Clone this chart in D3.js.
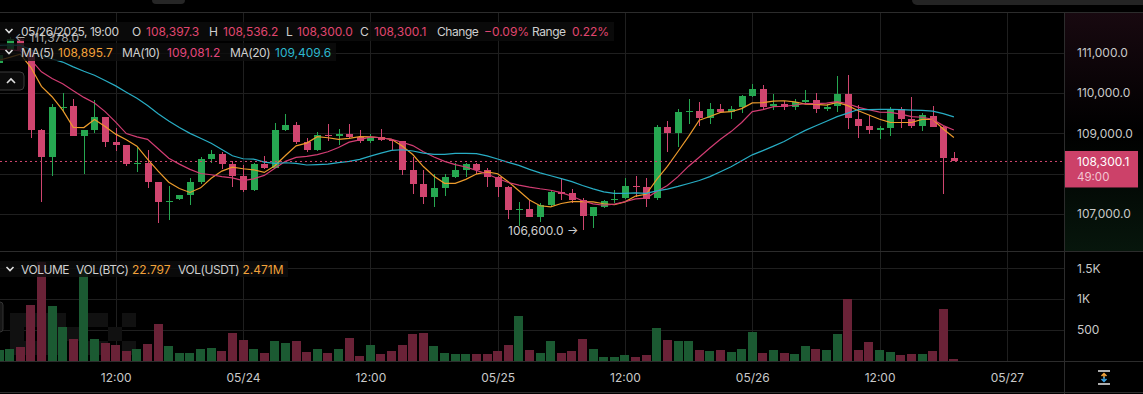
<!DOCTYPE html>
<html>
<head>
<meta charset="utf-8">
<script src="https://cdn.jsdelivr.net/npm/d3@7"></script>
<style>
  html, body { margin: 0; padding: 0; background: #000; overflow: hidden; }
  svg { display: block; font-family: Inter, "Noto Sans", sans-serif; }
</style>
</head>
<body>
<svg id="chart"></svg>
<script>
// hourly candles, first one is 05/23 01:00 (UTC used only for labelling)
const startHour = Date.UTC(2025, 4, 23, 1);

const opens = [110740, 111060, 111330, 111060, 109070, 108410, 109640, 109670, 108930, 109070,
  109400, 108780, 108700, 108250, 108270, 107780, 107310, 107360, 107470, 107780,
  108360, 108480, 108230, 107940, 107590, 108230, 108150, 109070, 109200, 108780,
  108580, 108950, 108930, 108990, 108910, 108800, 108910, 108830, 108800, 108080,
  107740, 107420, 107640, 107910, 108080, 108230, 108080, 107920, 107670, 107090,
  107110, 106930, 107210, 107540, 107510, 107340, 106940, 107160, 107340, 107390,
  107690, 107660, 107400, 109160, 109010, 109530, 109550, 109380, 109610, 109530,
  109640, 109920, 110090, 109670, 109720, 109650, 109780, 109820, 109610, 109670,
  109980, 109360, 109180, 109070, 109130, 109600, 109350, 109180, 109420, 109160,
  108397.3];
const highs = [110980, 111378, 111360, 111100, 109100, 109720, 110000, 109860, 109080, 109820,
  109410, 109140, 108710, 108660, 108580, 107790, 107690, 107470, 107880, 108410,
  108580, 108540, 108310, 108210, 108260, 108430, 109250, 109470, 109270, 108890,
  109030, 109220, 109100, 109220, 109070, 108990, 109100, 108840, 108810, 108400,
  108100, 108000, 107980, 108260, 108260, 108260, 108130, 107930, 107680, 107300,
  107340, 107260, 107590, 107860, 107620, 107400, 107170, 107350, 107590, 107900,
  107930, 107880, 109200, 109300, 109600, 109840, 109780, 109740, 109720, 109670,
  109950, 110220, 110190, 109980, 109800, 109850, 110070, 110000, 109730, 110410,
  110440, 109690, 109450, 109170, 109640, 109650, 109900, 109490, 109670, 109170,
  108536.2];
const lows = [110700, 111040, 111020, 108870, 107300, 107940, 109560, 108920, 107980, 109010,
  108660, 108560, 108180, 108040, 107650, 106780, 106840, 107340, 107220, 107740,
  108270, 108120, 107670, 107550, 107580, 108120, 108140, 109060, 108740, 108540,
  108570, 108810, 108700, 108870, 108760, 108750, 108820, 108580, 107960, 107490,
  107240, 107170, 107440, 107900, 107920, 107980, 107670, 107420, 106870, 106690,
  106920, 106800, 107200, 107340, 107260, 106600, 106640, 107150, 107260, 107380,
  107420, 107170, 107350, 108540, 108660, 109220, 109180, 109240, 109520, 109350,
  109500, 109900, 109590, 109570, 109570, 109570, 109740, 109490, 109550, 109530,
  109100, 108890, 108980, 108850, 108930, 109130, 109120, 109050, 109150, 107500,
  108300.0];
const closes = [110930, 111330, 111060, 109090, 108410, 109640, 109660, 108930, 109070, 109400,
  108780, 108710, 108230, 108270, 107790, 107300, 107330, 107460, 107780, 108360,
  108480, 108230, 107940, 107590, 108230, 108150, 109070, 109200, 108780, 108580,
  108950, 108930, 108990, 108910, 108800, 108910, 108830, 108800, 108080, 107740,
  107420, 107640, 107910, 108080, 108230, 108080, 107920, 107670, 107090, 107110,
  106930, 107210, 107540, 107500, 107340, 106940, 107160, 107320, 107380, 107690,
  107660, 107380, 109160, 109010, 109530, 109540, 109380, 109610, 109530, 109610,
  109920, 110090, 109650, 109720, 109650, 109780, 109820, 109600, 109650, 109980,
  109380, 109180, 109070, 109130, 109600, 109350, 109180, 109450, 109160, 108390,
  108300.1];
// volume in BTC
const volumes = [163, 185, 217, 907, 1596, 885, 543, 353, 1482, 348,
  288, 250, 152, 190, 272, 592, 234, 130, 114, 179,
  201, 152, 445, 331, 190, 119, 321, 282, 321, 136,
  179, 125, 179, 364, 76, 245, 103, 152, 250, 429,
  445, 234, 119, 103, 103, 98, 98, 152, 256, 717,
  168, 114, 310, 119, 152, 348, 179, 54, 54, 87,
  65, 87, 527, 326, 315, 321, 174, 152, 168, 141,
  185, 462, 119, 168, 130, 103, 239, 190, 163, 429,
  999, 174, 299, 174, 136, 87, 103, 103, 152, 836,
  22.797];
// closes of the 19 hours before the first visible candle, only used by the moving averages
const priorCloses = [111150, 111300, 111220, 111350, 111280, 111190, 111320, 111260, 111380, 111320,
  111420, 111360, 111290, 111410, 111300, 110980, 110650, 110720, 110770];

const maPeriods = [5, 10, 20];
const maColors = ['#ec9b2c', '#d23d73', '#28adc4'];
const maLegendColors = ['#f2a23a', '#e2477c', '#2cb8cf'];
const maLegendValues = ['108,895.7', '109,081.2', '109,409.6'];

const priceTicks = [107000, 108000, 109000, 110000, 111000];
const volumeTicks = [500, 1000, 1500];
const volumeTickLabels = ['500', '1K', '1.5K'];
const volUsdtText = '2.471M';
const countdownText = '49:00';

const W = 1143, H = 394;
const plotRight = 1064;
const mainTop = 12, mainBottom = 251, volBottom = 361;

const upColor = '#26a751', downColor = '#d0456f';
const upVol = '#1b5a32', downVol = '#6a2237';
const textColor = '#cfcfcf';

const fmtPrice = d3.format(',.1f');

const svg = d3.select('#chart').attr('width', W).attr('height', H);
const defs = svg.append('defs');

const times = closes.map((d, i) => new Date(startHour + i * 3600e3));
const candles = closes.map((c, i) => ({
  t: times[i], o: opens[i], h: highs[i], l: lows[i], c: c, v: volumes[i]
}));

// scales
const x = d3.scaleUtc()
  .domain([new Date(Date.UTC(2025, 4, 23, 0)), new Date(Date.UTC(2025, 4, 27, 0))])
  .range([-11.6, 1006.9]);
const y = d3.scaleLinear().domain([107000, 111000]).range([213.9, 52.6]);
const yVol = d3.scaleLinear().domain([0, 1500]).range([360.5, 268.3]);

// background of the right column
const grad = defs.append('linearGradient').attr('id', 'axisBg')
  .attr('x1', 0).attr('y1', 0).attr('x2', 0).attr('y2', 1);
grad.append('stop').attr('offset', '0%').attr('stop-color', '#180910');
grad.append('stop').attr('offset', '50%').attr('stop-color', '#000');
grad.append('stop').attr('offset', '100%').attr('stop-color', '#07160c');
svg.append('rect').attr('x', plotRight).attr('y', mainTop).attr('width', W - plotRight)
  .attr('height', mainBottom - mainTop).attr('fill', 'url(#axisBg)');

defs.append('clipPath').attr('id', 'clipMain').append('rect')
  .attr('x', 0).attr('y', mainTop).attr('width', plotRight).attr('height', mainBottom - mainTop);
defs.append('clipPath').attr('id', 'clipVol').append('rect')
  .attr('x', 0).attr('y', mainBottom).attr('width', plotRight).attr('height', volBottom - mainBottom);

// top ui bits
svg.append('rect').attr('x', 152).attr('y', -6).attr('width', 33).attr('height', 10).attr('rx', 4).attr('fill', '#262626');
svg.append('rect').attr('x', 912).attr('y', -6).attr('width', 240).attr('height', 11).attr('rx', 5).attr('fill', '#242424');

// grid
const timeTicks = d3.utcHour.every(12).range(new Date(Date.UTC(2025, 4, 23, 12)), new Date(Date.UTC(2025, 4, 27, 1)));
const grid = svg.append('g').attr('stroke', '#1f1f1f').attr('shape-rendering', 'crispEdges');
grid.selectAll('.vg').data(timeTicks).join('line')
  .attr('x1', d => Math.round(x(d)) + 0.5).attr('x2', d => Math.round(x(d)) + 0.5)
  .attr('y1', mainTop).attr('y2', volBottom);
grid.selectAll('.hg').data(priceTicks).join('line')
  .attr('x1', 0).attr('x2', plotRight).attr('y1', d => Math.round(y(d)) + 0.5).attr('y2', d => Math.round(y(d)) + 0.5);
grid.selectAll('.vhg').data(volumeTicks).join('line')
  .attr('x1', 0).attr('x2', plotRight).attr('y1', d => Math.round(yVol(d)) + 0.5).attr('y2', d => Math.round(yVol(d)) + 0.5);

// separators
const sep = svg.append('g').attr('stroke', '#2c2c2c').attr('shape-rendering', 'crispEdges');
[mainTop, mainBottom, volBottom, 392].forEach(v => {
  sep.append('line').attr('x1', 0).attr('x2', W).attr('y1', v + 0.5).attr('y2', v + 0.5);
});
sep.append('line').attr('x1', plotRight + 0.5).attr('x2', plotRight + 0.5).attr('y1', mainTop).attr('y2', H);

// faint watermark in the volume pane
const markCells = [[0,0],[1,0],[2,0],[0,1],[2,1],[0,2],[1,2],[2,2],
  [3,0],[3,1],[3,2],[4,1],[5,0],[5,2],
  [6,0],[8,0],[7,1],[6,2],[8,2]];
svg.append('g').selectAll('rect').data(markCells).join('rect')
  .attr('x', d => 10 + d[0] * 14).attr('y', d => 313 + d[1] * 14)
  .attr('width', 14).attr('height', 14).attr('fill', '#111');

// volume bars
svg.append('g').attr('clip-path', 'url(#clipVol)').attr('shape-rendering', 'crispEdges')
  .selectAll('rect').data(candles).join('rect')
  .attr('x', d => Math.round(x(d.t) - 4.5))
  .attr('width', 9)
  .attr('y', d => yVol(d.v))
  .attr('height', d => yVol(0) - yVol(d.v))
  .attr('fill', d => d.c >= d.o ? upVol : downVol);

// candles
const cg = svg.append('g').attr('clip-path', 'url(#clipMain)').attr('shape-rendering', 'crispEdges');
const candle = cg.selectAll('g').data(candles).join('g')
  .attr('fill', d => d.c >= d.o ? upColor : downColor)
  .attr('stroke', d => d.c >= d.o ? upColor : downColor);
candle.append('line')
  .attr('x1', d => Math.round(x(d.t)) + 0.5).attr('x2', d => Math.round(x(d.t)) + 0.5)
  .attr('y1', d => y(d.h)).attr('y2', d => y(d.l));
candle.append('rect')
  .attr('stroke', 'none')
  .attr('x', d => Math.round(x(d.t)) - 3)
  .attr('width', 7)
  .attr('y', d => y(Math.max(d.o, d.c)))
  .attr('height', d => Math.max(1, Math.abs(y(d.o) - y(d.c))));

// moving averages
const allCloses = priorCloses.concat(closes);
const off = priorCloses.length;
maPeriods.forEach((n, j) => {
  const ma = closes.map((c, i) => d3.mean(allCloses.slice(off + i - n + 1, off + i + 1)));
  svg.append('path')
    .attr('clip-path', 'url(#clipMain)')
    .datum(ma)
    .attr('fill', 'none')
    .attr('stroke', maColors[j])
    .attr('stroke-width', 1.2)
    .attr('d', d3.line().x((d, i) => x(times[i])).y(d => y(d)));
});

// last price line
const last = candles[candles.length - 1];
svg.append('line')
  .attr('x1', 0).attr('x2', plotRight).attr('y1', y(last.c)).attr('y2', y(last.c))
  .attr('stroke', downColor).attr('stroke-width', 1).attr('stroke-dasharray', '2,3');

// legend boxes
svg.append('rect').attr('x', 0).attr('y', 22).attr('width', 614).attr('height', 19).attr('fill', '#0d0d0d').attr('opacity', 0.8);
svg.append('rect').attr('x', 0).attr('y', 43).attr('width', 336).attr('height', 18).attr('fill', '#0d0d0d').attr('opacity', 0.8);
svg.append('rect').attr('x', 0).attr('y', 261).attr('width', 288).attr('height', 16).attr('fill', '#0d0d0d').attr('opacity', 0.8);

// high / low markers (the high one sits under the header text, as in the app)
const hiIdx = d3.maxIndex(candles, d => d.h), loIdx = d3.minIndex(candles, d => d.l);
svg.append('text').attr('x', x(times[hiIdx]) + 5).attr('y', y(candles[hiIdx].h) + 0.5)
  .attr('dominant-baseline', 'central').attr('font-size', 12).attr('fill', '#a9a9a9')
  .text('\u2190 ' + fmtPrice(candles[hiIdx].h));
svg.append('text').attr('x', x(times[loIdx]) - 4).attr('y', y(candles[loIdx].l))
  .attr('text-anchor', 'end').attr('dominant-baseline', 'central').attr('font-size', 12).attr('fill', textColor)
  .text(fmtPrice(candles[loIdx].l) + ' \u2192');

function chevron(cx, cy, up) {
  const d = up ? `M${cx - 4},${cy + 2} L${cx},${cy - 2} L${cx + 4},${cy + 2}`
               : `M${cx - 3.5},${cy - 2} L${cx},${cy + 1.5} L${cx + 3.5},${cy - 2}`;
  svg.append('path').attr('d', d).attr('fill', 'none').attr('stroke', '#e0e0e0').attr('stroke-width', 1.6);
}
chevron(9, 31, false);
chevron(9, 52, false);
chevron(10, 269, false);

// labels are set a bit tighter than the numbers, like the app font
function putText(items, cy) {
  svg.append('g').selectAll('text').data(items).join('text')
    .attr('x', d => d.x).attr('y', cy).attr('dominant-baseline', 'central')
    .attr('font-size', 12).attr('fill', d => d.c || textColor)
    .attr('letter-spacing', d => d.c ? 0 : -0.45)
    .text(d => d.t);
}

const change = (last.c - last.o) / last.o;
const range = (last.h - last.l) / last.l;
const valColor = last.c >= last.o ? upColor : '#e0466f';
putText([
  { t: d3.utcFormat('%m/%d/%Y, %H:%M')(last.t), x: 21 },
  { t: 'O', x: 132 }, { t: fmtPrice(last.o), x: 146, c: valColor },
  { t: 'H', x: 209 }, { t: fmtPrice(last.h), x: 223, c: valColor },
  { t: 'L', x: 286 }, { t: fmtPrice(last.l), x: 297, c: valColor },
  { t: 'C', x: 360 }, { t: fmtPrice(last.c), x: 374, c: valColor },
  { t: 'Change', x: 437 }, { t: d3.format('.2%')(change), x: 484, c: valColor },
  { t: 'Range', x: 532 }, { t: d3.format('.2%')(range), x: 572, c: valColor }
], 31);

const maX = [[21, 58], [122, 167], [230, 275]];
putText(maPeriods.flatMap((n, j) => [
  { t: `MA(${n})`, x: maX[j][0] },
  { t: maLegendValues[j], x: maX[j][1], c: maLegendColors[j] }
]), 52);

putText([
  { t: 'VOLUME', x: 21 },
  { t: 'VOL(BTC)', x: 76 }, { t: d3.format('.3f')(last.v), x: 132, c: '#f2a23a' },
  { t: 'VOL(USDT)', x: 178 }, { t: volUsdtText, x: 242.5, c: '#f2a23a' }
], 269);

// collapse buttons at the left edge
svg.append('rect').attr('x', -8).attr('y', 72).attr('width', 32).attr('height', 18).attr('rx', 4)
  .attr('fill', '#0b0b0b').attr('stroke', '#3a3a3a');
chevron(11, 81, true);
svg.append('rect').attr('x', -6).attr('y', 302).attr('width', 9).attr('height', 30).attr('rx', 3)
  .attr('fill', '#161616').attr('stroke', '#333');

// axes
const priceAxis = d3.axisRight(y).tickValues(priceTicks).tickFormat(fmtPrice).tickSize(0).tickPadding(13);
const volAxis = d3.axisRight(yVol).tickValues(volumeTicks).tickFormat((d, i) => volumeTickLabels[i]).tickSize(0).tickPadding(13);
const timeAxis = d3.axisBottom(x).tickValues(timeTicks)
  .tickFormat(d => d.getUTCHours() === 0 ? d3.utcFormat('%m/%d')(d) : d3.utcFormat('%H:%M')(d))
  .tickSize(0).tickPadding(12);

[svg.append('g').attr('transform', `translate(${plotRight},0)`).call(priceAxis),
 svg.append('g').attr('transform', `translate(${plotRight},0)`).call(volAxis),
 svg.append('g').attr('transform', `translate(0,${volBottom})`).call(timeAxis)
].forEach(g => {
  g.select('.domain').remove();
  g.attr('font-family', null).attr('font-size', 12);
  g.selectAll('text').attr('fill', '#c9c9c9');
});

// last price tag
const tagY = y(last.c);
svg.append('rect').attr('x', plotRight + 1).attr('y', tagY - 10.5).attr('width', 73).attr('height', 36.5)
  .attr('fill', '#cc4169');
svg.append('text').attr('x', 1077).attr('y', tagY).attr('dominant-baseline', 'central')
  .attr('font-size', 12).attr('fill', '#fff').text(fmtPrice(last.c));
svg.append('text').attr('x', 1077).attr('y', tagY + 15.5).attr('dominant-baseline', 'central')
  .attr('font-size', 11.5).attr('fill', '#f3c5d2').text(countdownText);

// auto-scale icon
const ic = svg.append('g').attr('stroke-width', 1.5);
ic.append('line').attr('x1', 1098).attr('x2', 1110).attr('y1', 371).attr('y2', 371).attr('stroke', '#e8e8e8');
ic.append('line').attr('x1', 1098).attr('x2', 1110).attr('y1', 384).attr('y2', 384).attr('stroke', '#e8e8e8');
ic.append('path').attr('d', 'M1101.5,376 L1104,373.5 L1106.5,376 M1104,373.5 L1104,378').attr('fill', 'none').attr('stroke', '#f2a23a');
ic.append('path').attr('d', 'M1101.5,379 L1104,381.5 L1106.5,379 M1104,381.5 L1104,377').attr('fill', 'none').attr('stroke', '#3aa0e0');
</script>
</body>
</html>
